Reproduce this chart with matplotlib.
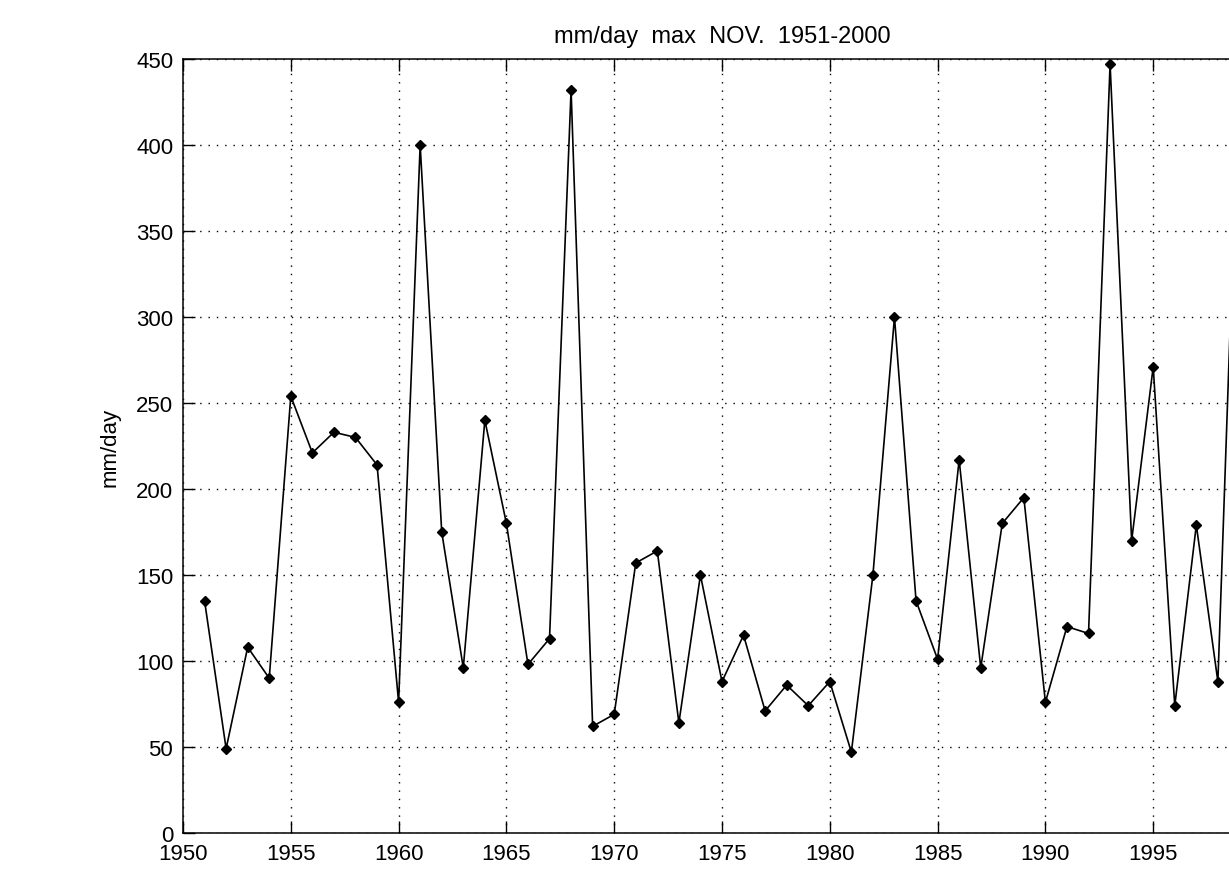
import matplotlib
matplotlib.use("Agg")
import matplotlib.pyplot as plt
import numpy as np

plt.rcParams["font.family"] = ["Liberation Sans", "DejaVu Sans"]

# November daily maximum precipitation (mm/day)
years = np.arange(1951, 2000)
mm_day = [135, 49, 108, 90, 254, 221, 233, 230, 214, 76,
          400, 175, 96, 240, 180, 98, 113, 432, 62, 69,
          157, 164, 64, 150, 88, 115, 71, 86, 74, 88,
          47, 150, 300, 135, 101, 217, 96, 180, 195, 76,
          120, 116, 447, 170, 271, 74, 179, 88, 450]

xticks = np.arange(1950, 2001, 5)
yticks = np.arange(0, 451, 50)

fig = plt.figure(figsize=(12.29, 8.79), dpi=100)
# axes run past the right edge of the canvas
ax = fig.add_axes([183 / 1229, 1 - 834 / 879, (1261 - 183) / 1229, (834 - 60) / 879])

ax.plot(years, mm_day, color="black", linewidth=1.2, marker="D",
        markersize=5, markerfacecolor="black", markeredgecolor="black")

ax.set_xlim(1950, 2000)
ax.set_ylim(0, 450)
ax.set_xticks(xticks)
ax.set_yticks(yticks)
ax.grid(True, color="black", linestyle=(0, (1, 5)), linewidth=1.0)

ax.tick_params(direction="in", length=8.5, width=1.0, top=True, right=True,
               labelsize=16, pad=7, colors="black")
for s in ax.spines.values():
    s.set_linewidth(1.1)

ax.set_title("mm/day  max  NOV.  1951-2000", fontsize=17, pad=12)
ax.set_ylabel("mm/day", fontsize=16, labelpad=11)
ax.set_xlabel("YEAR", fontsize=16, labelpad=10)

fig.savefig("out.png", dpi=100)
